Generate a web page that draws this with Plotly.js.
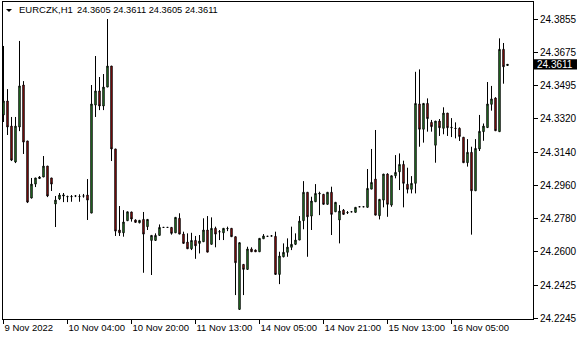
<!DOCTYPE html>
<html>
<head>
<meta charset="utf-8">
<script src="https://cdn.plot.ly/plotly-3.0.1.min.js"></script>
<style>html,body{margin:0;padding:0;background:#fff;}#chart{width:580px;height:340px;}</style>
</head>
<body>
<div id="chart"></div>
<script>
var symbol = "EURCZK,H1";
var lastBar = [24.3605, 24.3611, 24.3605, 24.3611];

var openP = [
24.3339, 24.3414, 24.3279, 24.3086, 24.3274, 24.3500, 24.3199, 24.2892, 24.2967, 24.2997,
24.3005, 24.3064, 24.3000, 24.2860, 24.2887, 24.2903, 24.2899, 24.2899, 24.2903, 24.2900,
24.2903, 24.2908, 24.2811, 24.3392, 24.3468, 24.3387, 24.3489, 24.3602, 24.3156, 24.2720,
24.2705, 24.2770, 24.2817, 24.2774, 24.2759, 24.2777, 24.2738, 24.2664, 24.2664, 24.2691,
24.2734, 24.2734, 24.2734, 24.2705, 24.2783, 24.2698, 24.2655, 24.2619, 24.2664, 24.2648,
24.2657, 24.2720, 24.2643, 24.2729, 24.2711, 24.2705, 24.2727, 24.2729, 24.2684, 24.2293,
24.2535, 24.2508, 24.2618, 24.2612, 24.2603, 24.2673, 24.2686, 24.2688, 24.2686, 24.2481,
24.2576, 24.2600, 24.2627, 24.2643, 24.2666, 24.2770, 24.2923, 24.2795, 24.2872, 24.2914,
24.2912, 24.2858, 24.2923, 24.2818, 24.2774, 24.2827, 24.2813, 24.2818, 24.2815, 24.2845,
24.2845, 24.2842, 24.2940, 24.2994, 24.2797, 24.2881, 24.3021, 24.2854, 24.3012, 24.3033,
24.3073, 24.2966, 24.2939, 24.2971, 24.3398, 24.3262, 24.3401, 24.3299, 24.3176, 24.3306,
24.3267, 24.3349, 24.3270, 24.3267, 24.3267, 24.3219, 24.3082, 24.3138, 24.2931, 24.3156,
24.3249, 24.3271, 24.3396, 24.3430, 24.3249, 24.3692, 24.3605
];
var highP = [
24.3710, 24.3478, 24.3328, 24.3328, 24.3737, 24.3521, 24.3199, 24.3000, 24.3000, 24.3010,
24.3118, 24.3064, 24.3000, 24.2903, 24.2919, 24.2919, 24.2905, 24.2908, 24.2908, 24.2912,
24.2914, 24.2994, 24.3500, 24.3656, 24.3543, 24.3559, 24.3855, 24.3602, 24.3156, 24.2849,
24.2827, 24.2818, 24.2818, 24.2777, 24.2774, 24.2817, 24.2777, 24.2691, 24.2702, 24.2750,
24.2736, 24.2736, 24.2734, 24.2788, 24.2810, 24.2711, 24.2702, 24.2705, 24.2688, 24.2693,
24.2783, 24.2795, 24.2788, 24.2738, 24.2720, 24.2729, 24.2738, 24.2729, 24.2684, 24.2652,
24.2535, 24.2630, 24.2627, 24.2615, 24.2675, 24.2698, 24.2688, 24.2693, 24.2711, 24.2603,
24.2648, 24.2675, 24.2738, 24.2702, 24.2795, 24.2983, 24.2923, 24.2899, 24.2967, 24.2926,
24.2914, 24.2923, 24.2953, 24.2870, 24.2854, 24.2833, 24.2822, 24.2820, 24.2842, 24.2846,
24.2846, 24.3048, 24.3156, 24.3258, 24.2885, 24.3021, 24.3025, 24.3012, 24.3123, 24.3132,
24.3093, 24.3055, 24.3010, 24.3571, 24.3584, 24.3401, 24.3428, 24.3312, 24.3306, 24.3317,
24.3380, 24.3349, 24.3322, 24.3299, 24.3272, 24.3219, 24.3209, 24.3168, 24.3209, 24.3339,
24.3293, 24.3516, 24.3495, 24.3434, 24.3751, 24.3726, 24.3611
];
var lowP = [
24.3301, 24.3231, 24.3091, 24.3080, 24.3252, 24.3129, 24.2865, 24.2890, 24.2951, 24.2994,
24.3005, 24.2897, 24.2930, 24.2736, 24.2881, 24.2870, 24.2870, 24.2872, 24.2897, 24.2872,
24.2894, 24.2774, 24.2811, 24.3328, 24.3365, 24.3365, 24.3489, 24.3091, 24.2688, 24.2688,
24.2684, 24.2770, 24.2765, 24.2761, 24.2756, 24.2490, 24.2720, 24.2478, 24.2661, 24.2691,
24.2732, 24.2732, 24.2695, 24.2705, 24.2698, 24.2648, 24.2619, 24.2612, 24.2565, 24.2594,
24.2657, 24.2601, 24.2643, 24.2627, 24.2666, 24.2666, 24.2714, 24.2684, 24.2370, 24.2293,
24.2370, 24.2508, 24.2603, 24.2603, 24.2603, 24.2673, 24.2684, 24.2686, 24.2481, 24.2429,
24.2573, 24.2576, 24.2612, 24.2639, 24.2666, 24.2724, 24.2576, 24.2720, 24.2872, 24.2800,
24.2858, 24.2858, 24.2693, 24.2818, 24.2648, 24.2804, 24.2806, 24.2816, 24.2815, 24.2844,
24.2844, 24.2842, 24.2940, 24.2800, 24.2777, 24.2842, 24.2791, 24.2845, 24.2998, 24.2935,
24.2842, 24.2917, 24.2917, 24.2917, 24.3168, 24.3190, 24.3249, 24.3249, 24.3082, 24.3226,
24.3235, 24.3226, 24.3220, 24.3213, 24.3199, 24.3082, 24.3061, 24.2695, 24.2931, 24.3145,
24.3200, 24.3271, 24.3362, 24.3254, 24.3249, 24.3507, 24.3605
];
var closeP = [
24.3414, 24.3274, 24.3096, 24.3279, 24.3495, 24.3193, 24.2870, 24.2967, 24.3000, 24.3005,
24.3064, 24.2903, 24.2967, 24.2881, 24.2908, 24.2908, 24.2900, 24.2900, 24.2903, 24.2900,
24.2903, 24.2881, 24.3398, 24.3468, 24.3387, 24.3489, 24.3602, 24.3156, 24.2714, 24.2705,
24.2763, 24.2818, 24.2779, 24.2761, 24.2772, 24.2698, 24.2777, 24.2691, 24.2691, 24.2734,
24.2734, 24.2734, 24.2702, 24.2788, 24.2698, 24.2648, 24.2619, 24.2664, 24.2635, 24.2661,
24.2720, 24.2601, 24.2729, 24.2698, 24.2710, 24.2729, 24.2728, 24.2684, 24.2544, 24.2652,
24.2508, 24.2618, 24.2603, 24.2603, 24.2675, 24.2688, 24.2686, 24.2688, 24.2481, 24.2580,
24.2600, 24.2628, 24.2643, 24.2666, 24.2768, 24.2923, 24.2791, 24.2876, 24.2917, 24.2917,
24.2858, 24.2923, 24.2804, 24.2869, 24.2822, 24.2804, 24.2814, 24.2818, 24.2842, 24.2845,
24.2845, 24.2944, 24.2976, 24.2800, 24.2885, 24.3021, 24.2858, 24.3012, 24.3030, 24.3073,
24.2971, 24.2939, 24.2971, 24.3401, 24.3262, 24.3401, 24.3319, 24.3276, 24.3306, 24.3270,
24.3349, 24.3270, 24.3272, 24.3266, 24.3223, 24.3082, 24.3138, 24.2931, 24.3159, 24.3251,
24.3279, 24.3398, 24.3425, 24.3254, 24.3692, 24.3598, 24.3611
];

var xTickIdx = [0, 16, 32, 48, 64, 80, 96, 112];
var xTickLabels = ["9 Nov 2022", "10 Nov 04:00", "10 Nov 20:00", "11 Nov 13:00",
                   "14 Nov 05:00", "14 Nov 21:00", "15 Nov 13:00", "16 Nov 05:00"];
var yTickLabels = ["24.2245", "24.2425", "24.2600", "24.2780", "24.2960",
                   "24.3140", "24.3320", "24.3495", "24.3675", "24.3855"];

var barIdx = openP.map(function (_, i) { return i; });
var yLo = parseFloat(yTickLabels[0]);
var yHi = parseFloat(yTickLabels[yTickLabels.length - 1]);
var yTickVals = yTickLabels.map(function (_, k) {
  return yLo + k * (yHi - yLo) / (yTickLabels.length - 1);
});
var lastClose = closeP[closeP.length - 1];

var font = "Liberation Sans, Arial, sans-serif";

var trace = {
  type: "candlestick",
  x: barIdx,
  open: openP, high: highP, low: lowP, close: closeP,
  increasing: {fillcolor: "#3cbf3c", line: {color: "#000000", width: 1}},
  decreasing: {fillcolor: "#e01414", line: {color: "#000000", width: 1}},
  whiskerwidth: 0,
  hoverinfo: "none"
};

var layout = {
  width: 580, height: 340,
  margin: {l: 3, r: 47, t: 2, b: 21, pad: 0},
  paper_bgcolor: "#ffffff", plot_bgcolor: "#ffffff",
  showlegend: false,
  boxgap: 0.5,
  font: {family: font, size: 10, color: "#000000"},
  xaxis: {
    range: [-0.125, 132.375],
    tickmode: "array", tickvals: xTickIdx, ticktext: xTickLabels,
    tickangle: 0,
    ticks: "outside", ticklen: 4, tickwidth: 1, tickcolor: "#000000",
    ticklabelposition: "outside right",
    tickfont: {family: font, size: 9.5, color: "#000000"},
    showline: true, mirror: true, linecolor: "#000000", linewidth: 1,
    showgrid: false, zeroline: false,
    rangeslider: {visible: false}, fixedrange: true
  },
  yaxis: {
    side: "right",
    range: [24.22413, 24.39465],
    tickmode: "array", tickvals: yTickVals, ticktext: yTickLabels,
    ticks: "outside", ticklen: 4, tickwidth: 1, tickcolor: "#000000",
    tickfont: {family: font, size: 10, color: "#000000"},
    showline: true, mirror: true, linecolor: "#000000", linewidth: 1,
    showgrid: false, zeroline: false, fixedrange: true
  },
  shapes: [
    {type: "path", xref: "paper", yref: "paper",
     path: "M 0.0057,0.9779 L 0.0170,0.9779 L 0.0113,0.9685 Z",
     fillcolor: "#000000", line: {width: 0}},
    {type: "rect", xref: "paper", yref: "y",
     x0: 1.0, x1: 1.083, y0: lastClose - 0.0027, y1: lastClose + 0.0027,
     fillcolor: "#000000", line: {width: 0}, layer: "above"}
  ],
  annotations: [
    {xref: "paper", yref: "paper", x: 0.0283, y: 0.9748, xanchor: "left", yanchor: "middle",
     text: symbol, showarrow: false, borderpad: 0,
     font: {family: font, size: 9.5, color: "#000000"}},
    {xref: "paper", yref: "paper", x: 0.1378, y: 0.9748, xanchor: "left", yanchor: "middle",
     text: lastBar.map(function (v) { return v.toFixed(4); }).join(" "), showarrow: false, borderpad: 0,
     font: {family: font, size: 9.3, color: "#000000"}},
    {xref: "paper", yref: "y", x: 1.0, y: lastClose, xanchor: "left", yanchor: "middle",
     xshift: 3, text: lastClose.toFixed(4), showarrow: false, borderpad: 0,
     font: {family: font, size: 10, color: "#ffffff"}}
  ]
};

Plotly.newPlot("chart", [trace], layout, {staticPlot: true, displayModeBar: false});
</script>
</body>
</html>
